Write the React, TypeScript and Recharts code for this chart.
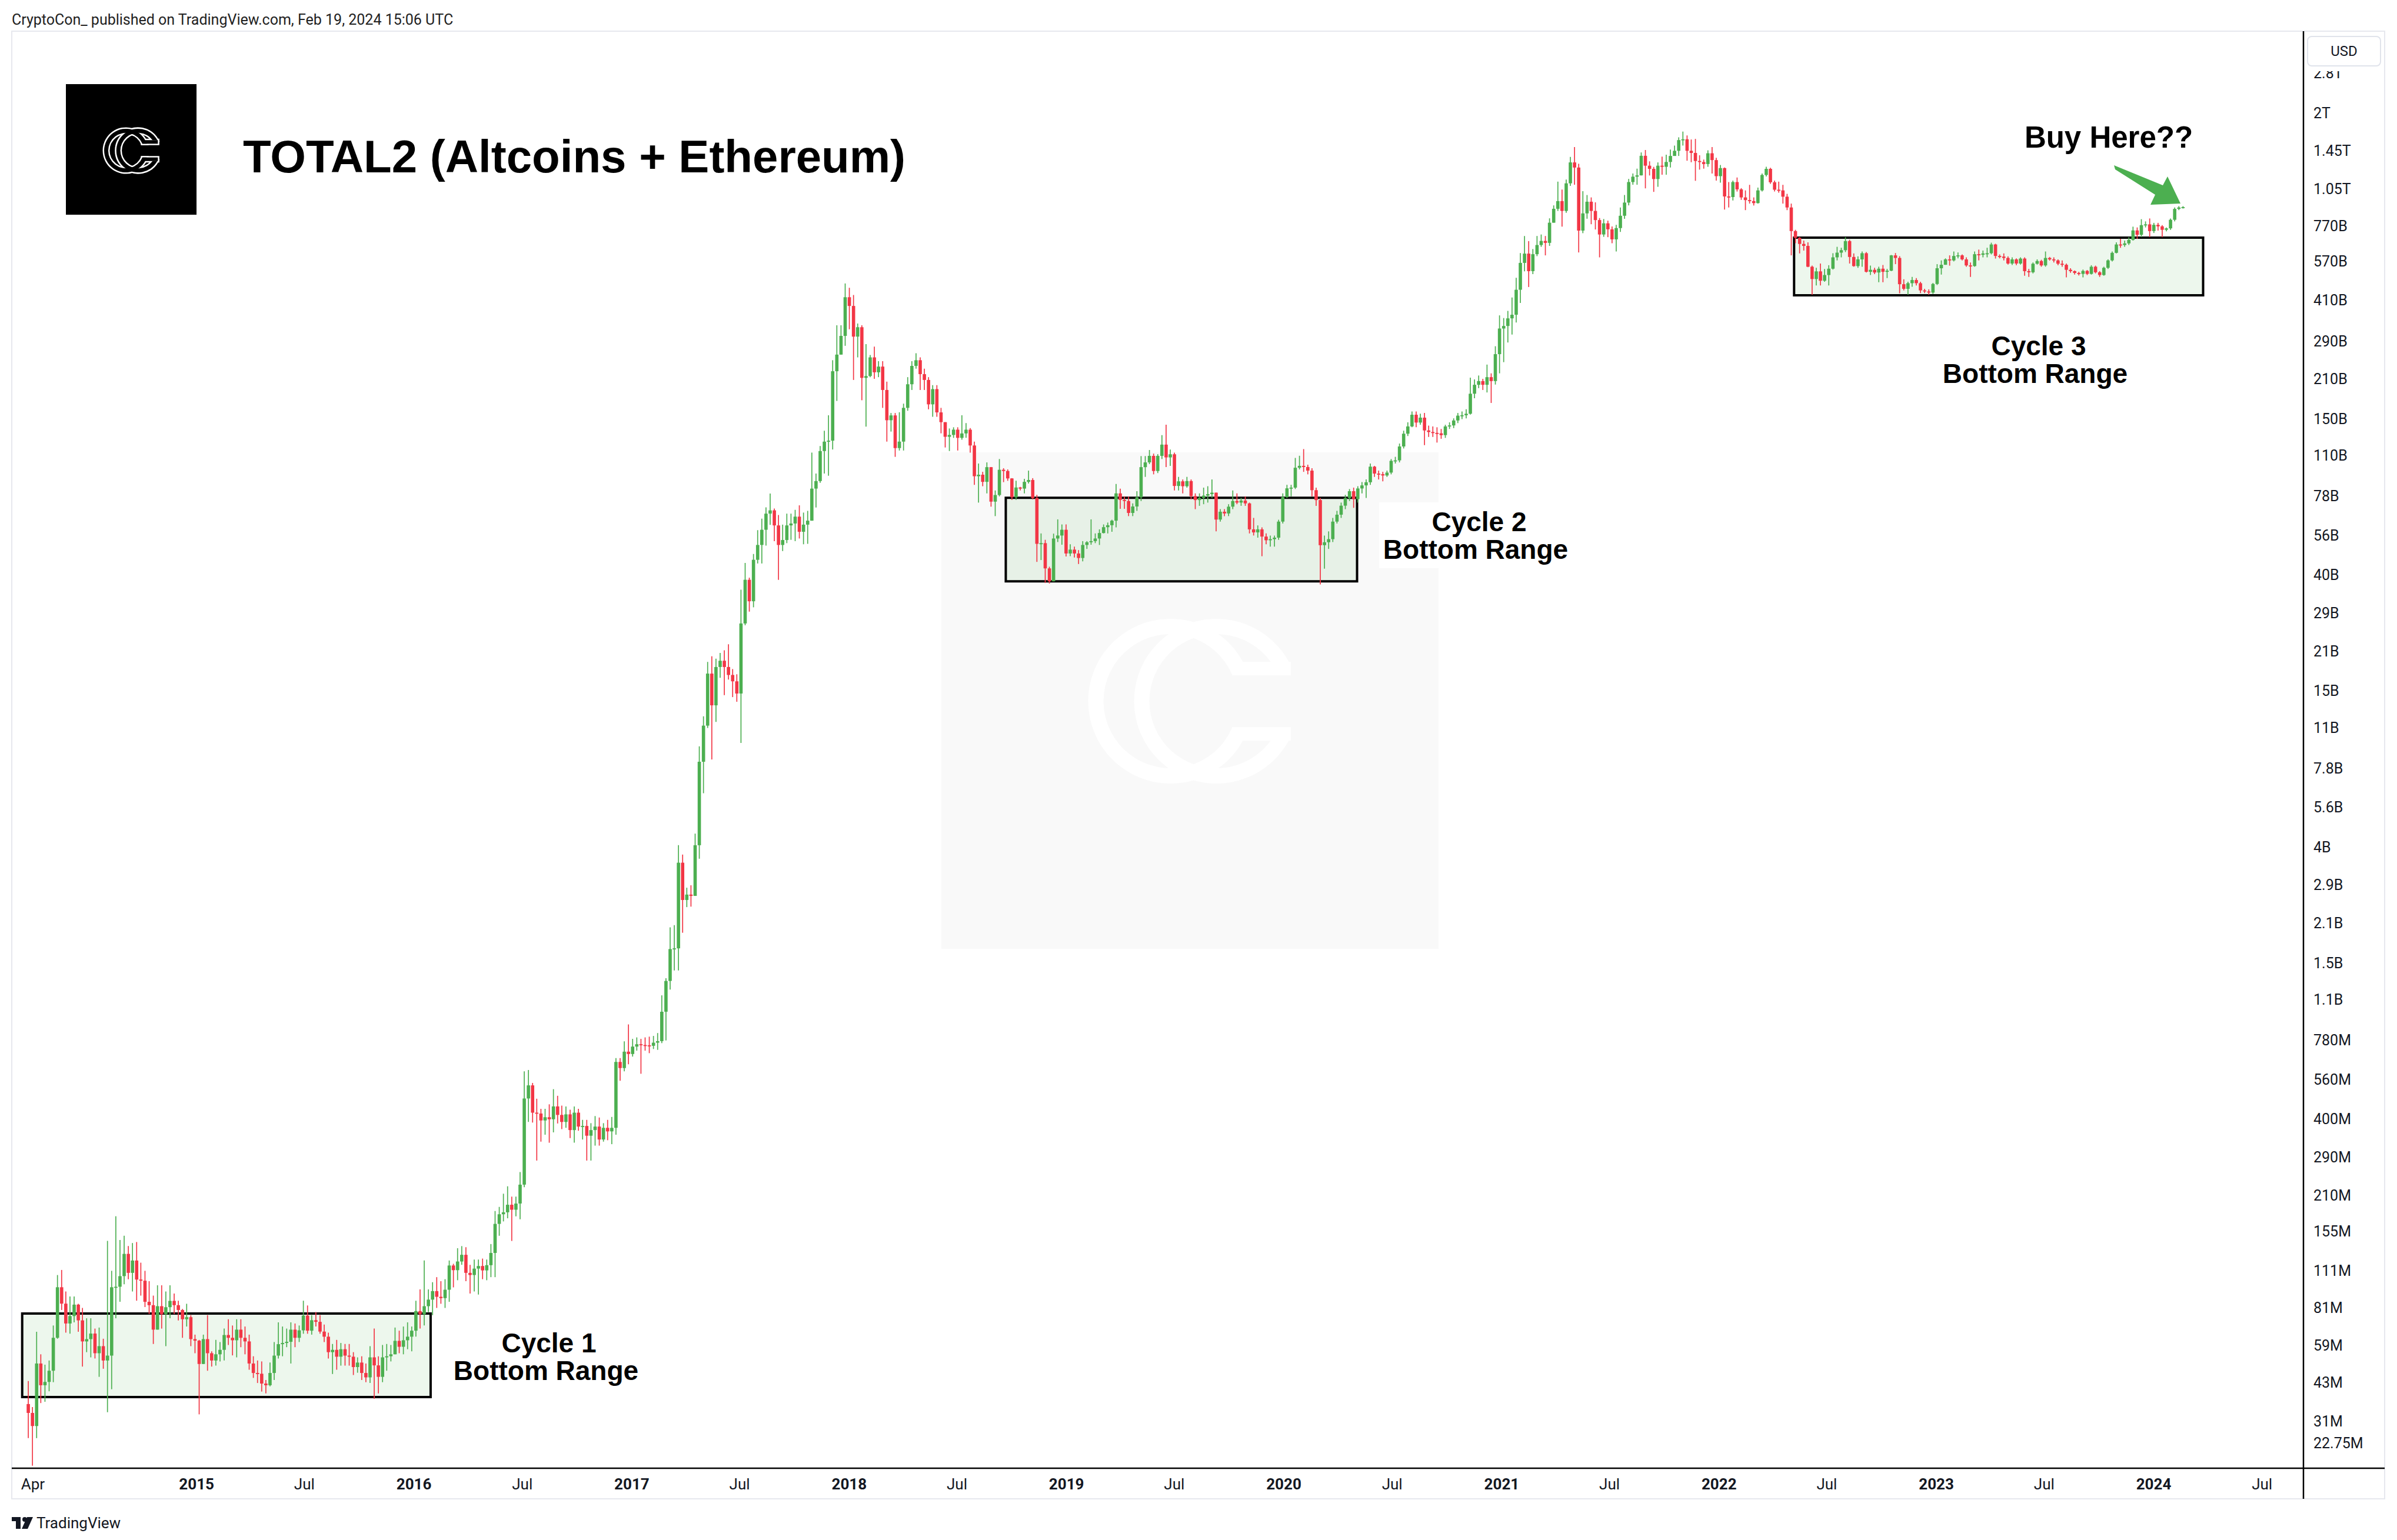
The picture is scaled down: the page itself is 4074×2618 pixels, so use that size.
import { ComposedChart, Bar, XAxis, YAxis, ReferenceArea } from "recharts"

const W = 4074
const H = 2618
const UP = "#4caf50"
const DOWN = "#f23645"
const WEEK = 7 * 24 * 3600 * 1000

// Weekly candles of TOTAL2, in billions of USD. First candle opens Mon 24 Mar 2014.
const firstWeek = "2014-03-24"
const firstOpen = 0.0359

const weeklyClose = [
  0.0333, 0.0298, 0.0506, 0.0421, 0.0433, 0.0476, 0.0629, 0.0965, 0.084, 0.071,
  0.0756, 0.0833, 0.0729, 0.061, 0.0622, 0.0652, 0.0552, 0.0586, 0.0519, 0.0541,
  0.0965, 0.0969, 0.106, 0.128, 0.109, 0.121, 0.103, 0.102, 0.0853, 0.0829,
  0.0674, 0.0822, 0.0768, 0.0815, 0.086, 0.0829, 0.0796, 0.0736, 0.0749, 0.0622,
  0.0614, 0.0504, 0.0622, 0.0552, 0.0519, 0.0547, 0.0568, 0.0644, 0.0629, 0.0616,
  0.0674, 0.0629, 0.061, 0.0506, 0.0467, 0.0464, 0.0427, 0.0421, 0.0467, 0.0541,
  0.0596, 0.0602, 0.0608, 0.0674, 0.0629, 0.067, 0.0759, 0.0668, 0.073, 0.072,
  0.0663, 0.0635, 0.0557, 0.0568, 0.0536, 0.0571, 0.0541, 0.0536, 0.0491, 0.051,
  0.0467, 0.045, 0.0533, 0.0498, 0.0452, 0.0533, 0.0538, 0.0547, 0.0613, 0.0583,
  0.0616, 0.0635, 0.0668, 0.0789, 0.0768, 0.0822, 0.0869, 0.0934, 0.089, 0.088,
  0.0945, 0.116, 0.1115, 0.12, 0.127, 0.109, 0.107, 0.113, 0.1155, 0.1113,
  0.1163, 0.129, 0.165, 0.179, 0.182, 0.194, 0.186, 0.196, 0.23, 0.477,
  0.533, 0.423, 0.42, 0.396, 0.407, 0.4, 0.446, 0.415, 0.391, 0.417,
  0.365, 0.423, 0.376, 0.378, 0.348, 0.365, 0.376, 0.337, 0.372, 0.361,
  0.372, 0.65, 0.617, 0.709, 0.695, 0.74, 0.755, 0.75, 0.748, 0.745,
  0.765, 0.775, 0.994, 1.29, 1.69, 1.7, 3.51, 2.56, 2.68, 2.65,
  4.07, 8.25, 11.2, 17.4, 13.3, 18.4, 19.4, 18.4, 17.2, 16.3,
  14.7, 26.6, 38.5, 32.1, 45.6, 51.7, 58.8, 67.4, 69.3, 61,
  51.7, 53.9, 61, 62, 65.7, 57.8, 61.4, 63.5, 83.3, 88.8,
  114.5, 124, 125, 225, 259, 303.5, 421, 391, 301.6, 326.6,
  212.7, 216, 253, 223, 234, 192, 148.6, 154.8, 117.4, 124,
  165, 201.5, 235.4, 247, 219.5, 209, 170, 193.4, 158.8, 146.2,
  129.2, 131.2, 137.2, 128, 132.9, 137.2, 120, 92.5, 93.7, 88.2,
  99.9, 74.6, 78.9, 97.7, 96.7, 90.8, 77.4, 84.1, 83.3, 88.2,
  89.6, 76.9, 52.2, 52.5, 42.4, 38, 54.6, 56, 58.8, 48.1,
  49.7, 48.1, 46.3, 51.7, 52.9, 53.4, 54.6, 57.2, 60.1, 61.1,
  63.5, 80, 75.7, 75, 67.8, 71.6, 77.4, 99.9, 104, 109.9,
  96.7, 109.9, 120.9, 108.5, 111.4, 85.2, 88.6, 85, 88.8, 78.2,
  75.6, 77, 78.5, 79.5, 80.5, 64.1, 68.5, 67.5, 71.5, 75,
  74, 75.3, 73.5, 59, 57.5, 59, 55.5, 53.8, 54.3, 55,
  63, 77.5, 83.5, 84, 99.4, 101, 100, 97, 82.2, 75.6,
  51.6, 52.9, 54.3, 63, 66.8, 72.1, 76.9, 81.5, 76.2, 83.4,
  85.6, 87.9, 100.3, 94.6, 94.1, 93.1, 95.4, 105.4, 105.8, 119,
  132.6, 141, 155.7, 145.7, 151.9, 136.3, 134.5, 133.5, 133, 131,
  141, 142.2, 148.3, 154.5, 155, 157, 186, 200.6, 207, 200.6,
  214, 207, 260, 323, 330, 352, 363, 448.5, 563, 609,
  525, 606, 655, 678, 667, 791, 890, 950, 874, 1104,
  1318, 1262, 740, 856, 945, 874, 809, 716, 787, 748,
  687, 756, 839, 938, 1116, 1168, 1181, 1394, 1282, 1248,
  1145, 1282, 1270, 1323, 1392, 1454, 1592, 1603, 1454, 1428,
  1334, 1322, 1300, 1424, 1344, 1173, 1256, 988, 983, 1116,
  1049, 980, 958, 950, 934, 1040, 1185, 1248, 1114, 1046,
  1040, 986, 900, 737, 696, 661, 650, 545, 491, 524,
  484, 508, 536, 590, 614, 627, 677, 592, 548, 580,
  611, 522, 531, 519, 536, 522, 527, 600, 587, 470,
  452, 474, 487, 474, 446, 442, 438, 471, 538, 554,
  580, 575, 597, 600, 580, 551, 548, 606, 603, 610,
  611, 658, 597, 594, 587, 560, 580, 560, 584, 525,
  520, 559, 572, 551, 587, 580, 575, 559, 554, 531,
  525, 517, 513, 526, 513, 545, 520, 508, 540, 575,
  613, 658, 655, 664, 684, 741, 714, 775, 780, 737,
  777, 767, 745, 754, 811, 889, 900, 903,
]

const weeklyHigh = [
  0.0436, 0.035, 0.0662, 0.0547, 0.0501, 0.0519, 0.0698, 0.107, 0.1117, 0.0931,
  0.0892, 0.0892, 0.0839, 0.081, 0.0742, 0.0742, 0.068, 0.0686, 0.0624, 0.1428,
  0.1109, 0.176, 0.144, 0.1492, 0.1367, 0.1403, 0.1415, 0.1188, 0.1109, 0.1016,
  0.0899, 0.0981, 0.0981, 0.0931, 0.0981, 0.0915, 0.0861, 0.0803, 0.0839, 0.0762,
  0.0646, 0.0618, 0.0646, 0.0762, 0.0561, 0.0618, 0.0607, 0.068, 0.0736, 0.0698,
  0.0736, 0.0736, 0.0692, 0.0646, 0.0538, 0.0519, 0.0515, 0.044, 0.051, 0.0607,
  0.0717, 0.0692, 0.068, 0.0717, 0.071, 0.0698, 0.0861, 0.0827, 0.0762, 0.0782,
  0.0762, 0.0704, 0.0657, 0.0597, 0.0618, 0.0602, 0.0597, 0.0597, 0.0557, 0.0533,
  0.0538, 0.0506, 0.0586, 0.068, 0.0538, 0.0592, 0.0597, 0.0592, 0.0686, 0.0668,
  0.0692, 0.0717, 0.0692, 0.0861, 0.0947, 0.121, 0.0947, 0.1007, 0.1051, 0.1016,
  0.1033, 0.121, 0.1177, 0.1343, 0.1367, 0.1355, 0.1167, 0.122, 0.122, 0.123,
  0.122, 0.1391, 0.184, 0.1905, 0.213, 0.2268, 0.2078, 0.2078, 0.256, 0.6,
  0.607, 0.544, 0.476, 0.437, 0.437, 0.454, 0.516, 0.488, 0.449, 0.446,
  0.434, 0.446, 0.437, 0.398, 0.398, 0.387, 0.411, 0.406, 0.387, 0.398,
  0.408, 0.671, 0.671, 0.774, 0.893, 0.79, 0.8, 0.79, 0.8, 0.805,
  0.81, 0.83, 1.142, 1.32, 2.03, 2.07, 4.07, 3.76, 2.84, 2.9,
  4.49, 9.4, 12.12, 19.21, 20.15, 19.75, 20.72, 21.2, 22.3, 18.08,
  17.3, 35.4, 44.4, 39.2, 47.9, 58.6, 64.6, 71.1, 79.9, 70.4,
  66.6, 61.4, 67.4, 67.4, 69.6, 72.3, 68, 69, 113, 94.7,
  119.4, 136, 155, 247, 332, 332, 473, 456, 429, 337,
  332, 283, 258, 277, 245, 245, 206, 158, 158, 159,
  171, 214, 245, 262, 253, 230, 214, 200, 200, 165,
  146, 138.6, 140, 140, 155, 145, 139, 124, 103, 96,
  104, 100, 82, 107, 99, 98, 91, 89, 84.5, 90.5,
  97, 91, 79, 57, 54, 43, 56.9, 64.2, 61.5, 61.5,
  52, 51, 49.5, 53.4, 53.4, 64.2, 57, 59, 61.5, 62.5,
  64, 86.6, 83.3, 78, 78, 73.5, 81.5, 109.7, 109.7, 115.5,
  112, 111.5, 131, 143, 116, 113, 92, 90, 92, 90,
  80, 80, 84, 85, 90, 80, 70, 70, 73, 82,
  80, 77, 78, 74, 65, 61, 60, 57, 56, 56,
  64, 80, 86, 86, 108, 110, 116.4, 102, 99, 84,
  77, 56, 58, 65, 69, 74, 79, 83, 84, 85,
  88, 90, 103, 101, 97, 96, 97, 107, 109, 122,
  136, 146, 160, 160, 157, 158, 142, 141, 140, 138,
  143, 146, 151, 158, 160, 163, 213, 210, 217, 211,
  238, 221, 278, 361, 353, 375, 420, 496, 612, 707,
  677, 633, 707, 716, 707, 821, 916, 1120, 1047, 1140,
  1380, 1500, 1303, 1033, 1000, 980, 940, 823, 816, 805,
  766, 777, 900, 1000, 1146, 1200, 1250, 1434, 1464, 1330,
  1269, 1318, 1385, 1407, 1470, 1520, 1630, 1711, 1656, 1600,
  1608, 1400, 1350, 1460, 1500, 1370, 1290, 1262, 1116, 1130,
  1160, 1060, 1040, 1090, 980, 1065, 1200, 1270, 1260, 1130,
  1120, 1090, 1010, 930, 745, 700, 680, 670, 550, 540,
  560, 535, 552, 611, 645, 640, 700, 685, 610, 595,
  620, 617, 550, 540, 545, 553, 535, 602, 612, 596,
  490, 480, 500, 495, 480, 452, 450, 475, 557, 575,
  585, 600, 620, 615, 605, 590, 565, 620, 630, 625,
  640, 668, 662, 605, 610, 595, 590, 585, 590, 590,
  535, 565, 580, 578, 620, 592, 590, 580, 575, 560,
  538, 528, 522, 532, 530, 552, 550, 525, 545, 580,
  620, 670, 690, 680, 700, 765, 760, 815, 800, 820,
  790, 790, 775, 760, 820, 900, 910, 910,
]

const weeklyLow = [
  0.0269, 0.0213, 0.0269, 0.0362, 0.0366, 0.04, 0.0432, 0.0624, 0.0796, 0.0657,
  0.0651, 0.0717, 0.0662, 0.0493, 0.0557, 0.0533, 0.0528, 0.0452, 0.0484, 0.0335,
  0.0407, 0.0742, 0.0853, 0.0989, 0.1033, 0.0931, 0.0861, 0.0899, 0.0816, 0.0769,
  0.0597, 0.0674, 0.068, 0.0586, 0.0742, 0.0769, 0.0729, 0.0629, 0.0692, 0.0586,
  0.0552, 0.0329, 0.0506, 0.0476, 0.0493, 0.0497, 0.0515, 0.0519, 0.0592, 0.0542,
  0.0533, 0.0581, 0.0547, 0.048, 0.0448, 0.0429, 0.0399, 0.0393, 0.0417, 0.044,
  0.0528, 0.0538, 0.0581, 0.0506, 0.0581, 0.0607, 0.0651, 0.0651, 0.0646, 0.0692,
  0.0651, 0.0607, 0.0528, 0.0463, 0.048, 0.0497, 0.0497, 0.0497, 0.0459, 0.0468,
  0.044, 0.0432, 0.0429, 0.0375, 0.0393, 0.0432, 0.0476, 0.0515, 0.0547, 0.0552,
  0.0547, 0.0571, 0.0561, 0.0635, 0.068, 0.0698, 0.0782, 0.0762, 0.081, 0.0839,
  0.081, 0.0853, 0.0964, 0.1024, 0.1167, 0.1016, 0.0915, 0.0931, 0.0907, 0.1033,
  0.1024, 0.1051, 0.1051, 0.1492, 0.1685, 0.173, 0.1428, 0.176, 0.1715, 0.225,
  0.391, 0.389, 0.282, 0.331, 0.351, 0.328, 0.358, 0.386, 0.368, 0.372,
  0.341, 0.328, 0.363, 0.337, 0.282, 0.282, 0.32, 0.32, 0.331, 0.335,
  0.324, 0.351, 0.554, 0.6, 0.637, 0.68, 0.715, 0.588, 0.715, 0.7,
  0.725, 0.72, 0.762, 0.78, 1.2, 1.41, 1.41, 1.94, 2.41, 2.42,
  2.66, 3.63, 6.32, 10.98, 8.41, 11.56, 16.8, 14.49, 16.54, 14.26,
  13.71, 9.67, 26.2, 29.4, 30.5, 44.2, 44.2, 51.4, 61.3, 53.4,
  38.5, 49.1, 52.5, 54, 53.4, 54.6, 52, 52.2, 63.5, 71,
  87.5, 94.7, 92.9, 116, 175, 279, 279, 321, 209, 253,
  176, 140.7, 214, 211, 214, 165, 124, 135, 109, 115,
  115, 161, 192, 230, 192, 192, 163, 153, 153, 133,
  118, 114.5, 128, 115, 126, 128, 113, 86, 74, 85,
  80, 71.5, 66, 78, 88, 89, 75.7, 75.7, 82, 80,
  87, 76, 44.8, 45.5, 37.5, 37.3, 38, 53, 51.8, 46.9,
  47, 46.5, 44, 45, 50, 51.8, 52.5, 51.7, 57, 57,
  57.8, 60, 70.2, 70.2, 66, 66, 69, 75, 92, 102.5,
  94, 95, 107, 100, 101, 82, 82, 80, 84, 76,
  70, 72, 73, 74, 77, 58, 63, 66, 66, 70,
  73, 72, 72, 57, 56, 55, 47, 52, 51, 51,
  54, 62, 77, 78, 83, 98, 96, 94, 78, 72,
  37, 42.3, 50, 53, 62, 65, 70, 75, 70.8, 74,
  80, 77, 86, 92, 90, 88.6, 92, 94, 103, 104,
  117, 130, 140, 140, 143, 120.3, 129, 129, 123, 127,
  128, 138, 139, 145, 150, 151, 156, 179, 195, 192,
  188, 172, 201, 221, 243, 287, 307, 340, 401, 524,
  459, 512, 596, 645, 600, 650, 805, 874, 765, 860,
  1080, 1091, 615, 724, 818, 781, 747, 590, 702, 700,
  665, 620, 732, 818, 916, 1091, 1091, 1180, 1058, 1180,
  1027, 1072, 1187, 1187, 1262, 1392, 1392, 1520, 1337, 1320,
  1128, 1240, 1250, 1270, 1200, 1130, 1110, 884, 900, 955,
  1030, 960, 880, 930, 915, 930, 1030, 1170, 1100, 1030,
  1020, 930, 880, 600, 665, 610, 625, 543, 430, 465,
  465, 480, 465, 532, 575, 590, 617, 560, 545, 540,
  545, 519, 508, 512, 478, 478, 495, 525, 557, 435,
  446, 430, 460, 465, 436, 436, 430, 433, 467, 510,
  560, 550, 570, 585, 575, 545, 500, 545, 575, 590,
  590, 605, 584, 585, 575, 555, 553, 552, 555, 505,
  500, 515, 555, 545, 545, 574, 565, 552, 545, 498,
  518, 510, 506, 498, 508, 510, 515, 500, 505, 535,
  570, 610, 640, 645, 655, 680, 690, 700, 760, 700,
  725, 740, 700, 735, 745, 800, 880, 892,
]

// price scale labels (billions) as printed on the right axis
const priceTicks = [
  2800, 2000, 1450, 1050, 770, 570, 410, 290, 210, 150, 110, 78, 56, 40, 29, 21, 15, 11,
  7.8, 5.6, 4, 2.9, 2.1, 1.5, 1.1, 0.78, 0.56, 0.4, 0.29, 0.21, 0.155, 0.111, 0.081,
  0.059, 0.043, 0.031, 0.02275,
]
const priceLabels = [
  "2.8T", "2T", "1.45T", "1.05T", "770B", "570B", "410B", "290B", "210B", "150B", "110B",
  "78B", "56B", "40B", "29B", "21B", "15B", "11B", "7.8B", "5.6B", "4B", "2.9B", "2.1B",
  "1.5B", "1.1B", "780M", "560M", "400M", "290M", "210M", "155M", "111M", "81M", "59M",
  "43M", "31M", "22.75M",
]

const timeTickDates = [
  "2014-04-01", "2015-01-01", "2015-07-01", "2016-01-01", "2016-07-01", "2017-01-01",
  "2017-07-01", "2018-01-01", "2018-07-01", "2019-01-01", "2019-07-01", "2020-01-01",
  "2020-07-01", "2021-01-01", "2021-07-01", "2022-01-01", "2022-07-01", "2023-01-01",
  "2023-07-01", "2024-01-01", "2024-07-01",
]
const timeTickLabels = [
  "Apr", "2015", "Jul", "2016", "Jul", "2017", "Jul", "2018", "Jul", "2019", "Jul",
  "2020", "Jul", "2021", "Jul", "2022", "Jul", "2023", "Jul", "2024", "Jul",
]

// bottom range rectangles
const boxStarts = ["2014-03-14", "2018-09-21", "2022-05-07"]
const boxEnds = ["2016-01-29", "2020-05-03", "2024-03-24"]
const boxLows = [0.0381, 38.0, 428]
const boxHighs = [0.0772, 77.1, 697]

const ms = (d: string) => new Date(d + "T00:00:00Z").getTime()
const timeTicks = timeTickDates.map(ms)
const tLeft = new Date("2014-02-24T12:00:00Z").getTime()
const tRight = new Date("2024-09-08T12:00:00Z").getTime()

const candles = weeklyClose.map((close, i) => {
  const open = i === 0 ? firstOpen : weeklyClose[i - 1]
  const high = Math.max(weeklyHigh[i] ?? close, open, close)
  const low = Math.min(weeklyLow[i] ?? close, open, close)
  return { t: ms(firstWeek) + i * WEEK, open, close, high, low, range: [low, high] }
})

const uiFont = "Roboto, 'Liberation Sans', sans-serif"
const boldFont = "'Liberation Sans', Arial, sans-serif"

function Candle(props: any) {
  const { x, y, width, height, payload } = props
  if (x == null || y == null || !payload) return null
  const top = Math.min(y, y + height)
  const bottom = Math.max(y, y + height)
  const { open, close, high, low } = payload
  const span = Math.log(high) - Math.log(low)
  // log axis: position is linear in log(value) between the wick ends
  const toY = (v: number) =>
    span > 0 ? bottom - ((Math.log(v) - Math.log(low)) / span) * (bottom - top) : top
  const color = close >= open ? UP : DOWN
  const cx = x + width / 2
  const yo = toY(open)
  const yc = toY(close)
  const bodyH = Math.max(Math.abs(yo - yc), 1.8)
  return (
    <g>
      <line x1={cx} x2={cx} y1={top} y2={bottom} stroke={color} strokeWidth={1.7} />
      <rect x={cx - width / 2} y={Math.min(yo, yc)} width={width} height={bodyH} fill={color} />
    </g>
  )
}

function PriceTick(props: any) {
  const { x, y, payload } = props
  const idx = priceTicks.indexOf(payload.value)
  const dy = idx === priceTicks.length - 1 ? -25 : 0
  return (
    <text x={x} y={y + dy} textAnchor="start" dominantBaseline="central" fontSize={25}
      fontFamily={uiFont} fill="#131722">
      {priceLabels[idx]}
    </text>
  )
}

function TimeTick(props: any) {
  const { x, y, payload } = props
  const label = timeTickLabels[timeTicks.indexOf(payload.value)]
  const isYear = /^\d{4}$/.test(label ?? "")
  return (
    <text x={x} y={y} textAnchor="middle" dominantBaseline="central" fontSize={26}
      fontFamily={uiFont} fontWeight={isYear ? 700 : 400} fill="#131722">
      {label}
    </text>
  )
}

// ring with a flat-cut opening on the right
function ring(cx: number, cy: number, ro: number, ri: number, h: number) {
  const xo = cx + Math.sqrt(ro * ro - h * h)
  const xi = cx + Math.sqrt(ri * ri - h * h)
  return `M ${xo} ${cy - h} A ${ro} ${ro} 0 1 0 ${xo} ${cy + h} L ${xi} ${cy + h} ` +
    `A ${ri} ${ri} 0 1 1 ${xi} ${cy - h} Z`
}

function ccPaths(cx: number, cy: number, k: number) {
  const bar = (y1: number, y2: number) =>
    `M ${cx + 71 * k} ${cy + y1 * k} H ${cx + 171 * k} V ${cy + y2 * k} H ${cx + 71 * k} Z`
  return [
    ring(cx - 33.5 * k, cy, 140 * k, 114 * k, 44 * k),
    ring(cx + 44.5 * k, cy, 140 * k, 114 * k, 67 * k),
    bar(-67, -44),
    bar(44, 67),
  ]
}

function CcMark({ cx, cy, k, outline }: { cx: number; cy: number; k: number; outline?: boolean }) {
  const paths = ccPaths(cx, cy, k)
  if (!outline) {
    return <g fill="#fff">{paths.map((d, i) => <path key={i} d={d} />)}</g>
  }
  return (
    <g>
      {paths.map((d, i) => <path key={"s" + i} d={d} fill="#fff" stroke="#fff" strokeWidth={5} />)}
      {paths.map((d, i) => <path key={"f" + i} d={d} fill="#000" />)}
    </g>
  )
}

export default function App() {
  const boldText = { fontFamily: boldFont, fontWeight: 700, fill: "#000" }
  return (
    <div style={{ position: "absolute", left: 0, top: 0, width: W, height: H, background: "#fff", overflow: "hidden" }}>
      {/* background watermark and label backing */}
      <svg width={W} height={H} style={{ position: "absolute", left: 0, top: 0 }}>
        <rect x={1600} y={769} width={845} height={844} fill="#f9f9f9" />
        <CcMark cx={2023} cy={1192} k={1} />
        <rect x={2344} y={854} width={340} height={112} fill="#fff" />
      </svg>

      <div style={{ position: "absolute", left: 0, top: 0 }}>
        <ComposedChart width={W} height={H} data={candles}
          margin={{ top: 54, right: 20, bottom: 70, left: 20 }}>
          <XAxis dataKey="t" type="number" domain={[tLeft, tRight]} allowDataOverflow
            ticks={timeTicks} interval={0} height={52} axisLine={false} tickLine={false}
            tickSize={0} tickMargin={27} tick={(p: any) => <TimeTick {...p} />} />
          <YAxis orientation="right" type="number" scale="log" domain={[0.02085, 3983]}
            allowDataOverflow ticks={priceTicks} interval={0} width={139} axisLine={false}
            tickLine={false} tickSize={0} tickMargin={17} tick={(p: any) => <PriceTick {...p} />} />
          {boxStarts.map((s, i) => (
            <ReferenceArea key={s} x1={ms(s)} x2={ms(boxEnds[i])} y1={boxLows[i]} y2={boxHighs[i]}
              fill={UP} fillOpacity={0.1} stroke="#000" strokeWidth={4} strokeOpacity={1} />
          ))}
          <Bar dataKey="range" barSize={5.6} isAnimationActive={false}
            shape={(p: any) => <Candle {...p} />} />
        </ComposedChart>
      </div>

      {/* frame, header, annotations */}
      <svg width={W} height={H} style={{ position: "absolute", left: 0, top: 0 }}>
        <rect x={20} y={53} width={4033} height={2495} fill="none" stroke="#e6e8ee" strokeWidth={2} />
        <line x1={20} x2={4053} y1={2496} y2={2496} stroke="#000" strokeWidth={2.5} />
        <line x1={3915} x2={3915} y1={53} y2={2548} stroke="#000" strokeWidth={2.5} />
        <rect x={3917} y={55} width={135} height={66} fill="#fff" />
        <rect x={3922} y={62} width={124} height={50} rx={7} fill="#fff" stroke="#e0e3eb" strokeWidth={2} />
        <text x={3984} y={87} textAnchor="middle" dominantBaseline="central" fontSize={24}
          fontFamily={uiFont} fill="#131722">USD</text>

        <text x={20} y={33} dominantBaseline="central" fontSize={25} fontFamily={uiFont} fill="#222">
          CryptoCon_ published on TradingView.com, Feb 19, 2024 15:06 UTC
        </text>

        <rect x={112} y={143} width={222} height={222} fill="#000" />
        <CcMark cx={223} cy={256} k={0.265} outline />
        <text x={413} y={293} fontSize={78} {...boldText}>TOTAL2 (Altcoins + Ethereum)</text>

        <g textAnchor="middle" dominantBaseline="central" fontSize={46} {...boldText}>
          <text x={933} y={2283}>Cycle 1</text>
          <text x={928} y={2330}>Bottom Range</text>
          <text x={2514} y={887}>Cycle 2</text>
          <text x={2508} y={934}>Bottom Range</text>
          <text x={3465} y={588}>Cycle 3</text>
          <text x={3459} y={635}>Bottom Range</text>
        </g>
        <text x={3584} y={233} textAnchor="middle" dominantBaseline="central" fontSize={51} {...boldText}>
          Buy Here??
        </text>
        <polygon fill={UP}
          points="3593,281 3676,315 3684,300 3706,346 3655,348 3663,331 3595,288" />

        <g fill="#131722">
          <rect x={20} y={2579} width={15} height={7} />
          <rect x={27} y={2579} width={8} height={20} />
          <circle cx={42} cy={2583} r={4} />
          <polygon points="46,2579 56,2579 47,2599 37,2599" />
        </g>
        <text x={62} y={2589} dominantBaseline="central" fontSize={26} fontFamily={uiFont} fill="#131722">
          TradingView
        </text>
      </svg>
    </div>
  )
}
